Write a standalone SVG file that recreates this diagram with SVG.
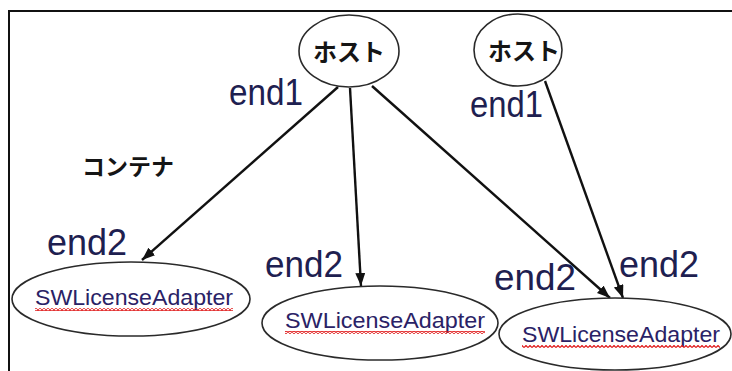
<svg xmlns="http://www.w3.org/2000/svg" width="732" height="371" viewBox="0 0 732 371">
<style>
.node{fill:#fff;stroke:#2a2a2a;stroke-width:1.6}
.jp{font-family:"Noto Sans CJK JP","Noto Sans",sans-serif;fill:#151515;text-anchor:middle}
.lbl{font-family:"Liberation Sans","DejaVu Sans",sans-serif;font-size:36px;fill:#1e2050}
.sw{font-family:"Liberation Sans","DejaVu Sans",sans-serif;font-size:22px;fill:#2a2266}
.edge{stroke:#111;stroke-width:2.4;fill:none;marker-end:url(#arr)}
</style>
<defs>
<marker id="arr" markerUnits="userSpaceOnUse" markerWidth="14" markerHeight="12" refX="13" refY="5" orient="auto">
<path d="M0,0 L13,5 L0,10 z" fill="#111"/>
</marker>
<pattern id="sq" patternUnits="userSpaceOnUse" width="4" height="3">
<path d="M0,2.5 L2,0.5 L4,2.5" stroke="#e01818" stroke-width="1.2" fill="none"/>
</pattern>
</defs>
<rect width="732" height="371" fill="#fff"/>
<g id="frame">
<line x1="9" y1="11" x2="732" y2="11" stroke="#111" stroke-width="2"/>
<line x1="9" y1="10" x2="9" y2="371" stroke="#111" stroke-width="2"/>
</g>
<g id="connectors">
<line class="edge" x1="338" y1="87" x2="142" y2="260"/>
<line class="edge" x1="350" y1="88" x2="361" y2="286"/>
<line class="edge" x1="372" y1="86" x2="610" y2="298"/>
<line class="edge" x1="545" y1="81" x2="623" y2="298"/>
</g>
<g id="host1">
<ellipse class="node" cx="349" cy="51" rx="50" ry="36"/>
<text class="jp" x="349" y="61" font-size="24" font-weight="bold">ホスト</text>
</g>
<g id="host2">
<ellipse class="node" cx="518" cy="50" rx="44" ry="36"/>
<text class="jp" x="524" y="60" font-size="24" font-weight="bold">ホスト</text>
</g>
<g id="container">
<text class="jp" x="128" y="175" font-size="23" font-weight="bold">コンテナ</text>
</g>
<g id="adapter1">
<ellipse class="node" cx="131" cy="299" rx="119" ry="37"/>
<text class="sw" x="35" y="305" textLength="198" lengthAdjust="spacingAndGlyphs">SWLicenseAdapter</text>
<rect x="35" y="308" width="198" height="3" fill="url(#sq)"/>
</g>
<g id="adapter2">
<ellipse class="node" cx="380" cy="323" rx="118" ry="37"/>
<text class="sw" x="285" y="328" textLength="200" lengthAdjust="spacingAndGlyphs">SWLicenseAdapter</text>
<rect x="285" y="331" width="200" height="3" fill="url(#sq)"/>
</g>
<g id="adapter3">
<ellipse class="node" cx="615" cy="334" rx="116" ry="36"/>
<text class="sw" x="522" y="342" textLength="198" lengthAdjust="spacingAndGlyphs">SWLicenseAdapter</text>
<rect x="522" y="345" width="198" height="3" fill="url(#sq)"/>
</g>
<g id="labels">
<text class="lbl" x="229" y="105" textLength="74" lengthAdjust="spacingAndGlyphs">end1</text>
<text class="lbl" x="470" y="117" textLength="73" lengthAdjust="spacingAndGlyphs">end1</text>
<text class="lbl" x="47" y="255" textLength="80" lengthAdjust="spacingAndGlyphs">end2</text>
<text class="lbl" x="265" y="277" textLength="78" lengthAdjust="spacingAndGlyphs">end2</text>
<text class="lbl" x="494" y="290" textLength="82" lengthAdjust="spacingAndGlyphs">end2</text>
<text class="lbl" x="619" y="277" textLength="80" lengthAdjust="spacingAndGlyphs">end2</text>
</g>
</svg>
